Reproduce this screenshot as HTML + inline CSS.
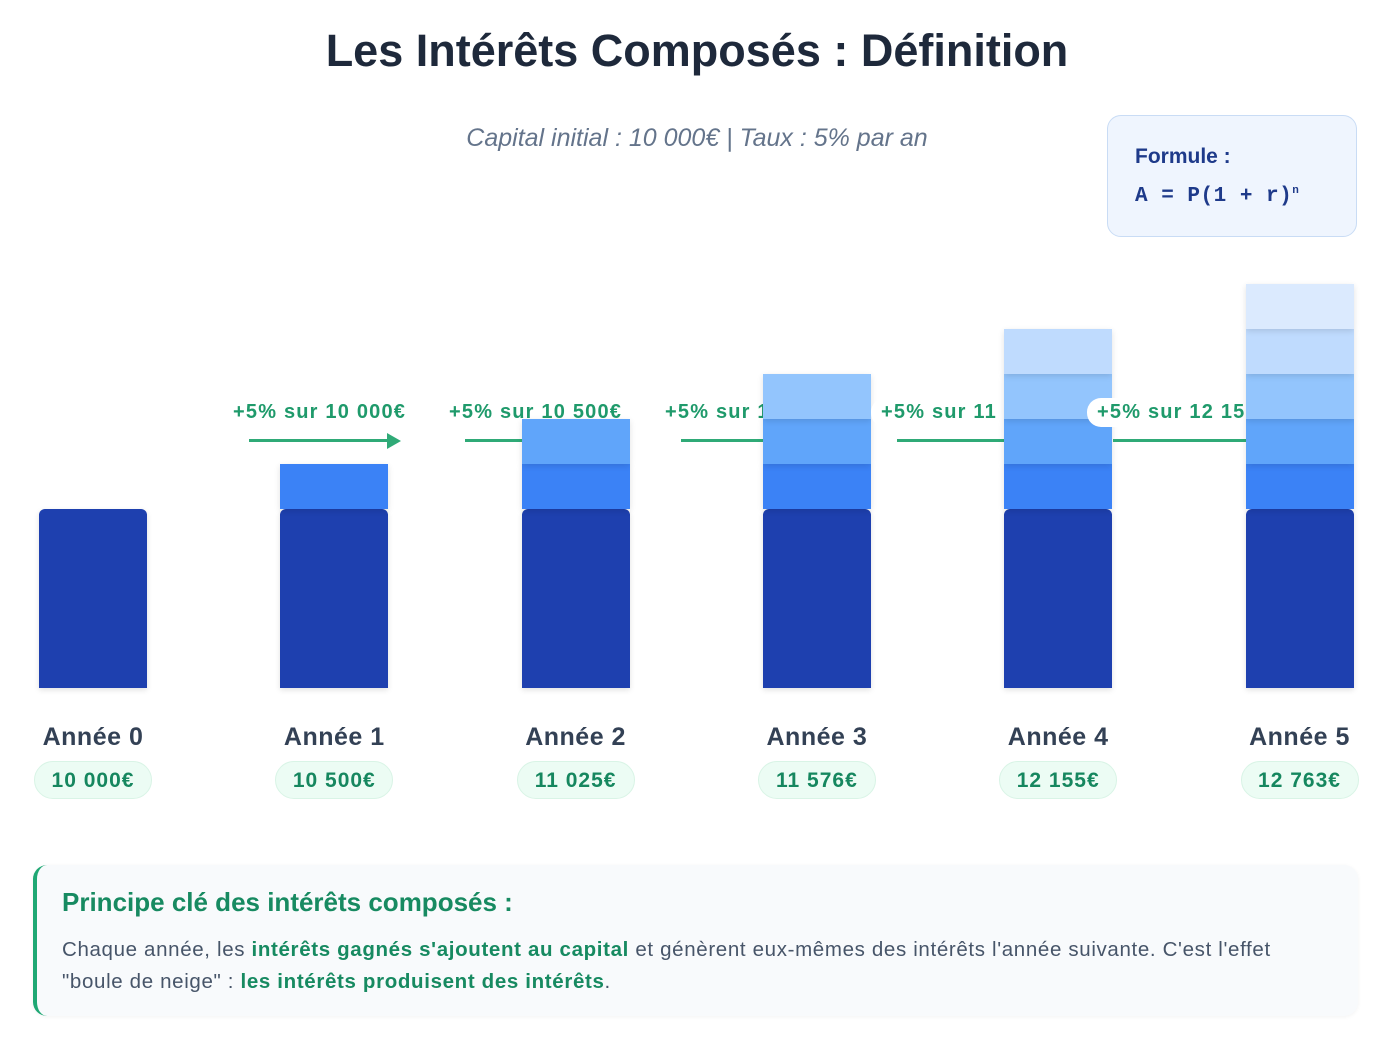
<!DOCTYPE html>
<html><head><meta charset="utf-8"><style>
body{margin:0;width:1394px;height:1038px;background:#fff;position:relative;overflow:hidden;font-family:"Liberation Sans","DejaVu Sans",sans-serif;}
.abs{position:absolute;}
#title{left:0;width:1394px;top:25px;text-align:center;font-size:45px;font-weight:bold;color:#1e293b;}
#sub{left:0;width:1394px;top:124px;text-align:center;font-size:25px;font-style:italic;color:#64748b;}
#formula{left:1107px;top:115px;width:250px;height:122px;box-sizing:border-box;background:#eff5fe;border:1.5px solid #c9dcf5;border-radius:14px;}
.lbl{font-size:20px;letter-spacing:1.2px;font-weight:bold;color:#1f9a6b;background:#fff;border-radius:14px;padding:3px 0;white-space:nowrap;}
.arrow{height:3px;background:#2faa77;}
.seg{box-shadow:0 2px 6px rgba(0,0,0,.12);}
.year{font-size:25px;letter-spacing:0.5px;font-weight:bold;color:#334155;text-align:center;width:160px;}
.pill{font-size:21px;letter-spacing:1px;font-weight:bold;color:#16875f;background:#ecfcf4;border:1px solid #d9f4e6;border-radius:19px;width:118px;height:38px;line-height:38px;text-align:center;box-sizing:border-box;}
#box{left:33px;top:865px;width:1325px;height:151px;box-sizing:border-box;background:#f8fafc;border-left:4px solid #1fa874;border-radius:14px;box-shadow:0 1px 4px rgba(0,0,0,.05);}
.g{color:#178a61;font-weight:bold;}
</style></head><body>
<div id="title" class="abs">Les Intérêts Composés : Définition</div>
<div id="sub" class="abs">Capital initial : 10 000€ | Taux : 5% par an</div>
<div id="formula" class="abs">
 <div class="abs" style="left:27px;top:29px;font-size:21px;font-weight:bold;color:#1e3a8a">Formule :</div>
 <div class="abs" style="left:27px;top:69px;font-size:21px;font-weight:bold;color:#1e3a8a;font-family:'Liberation Mono',monospace;white-space:pre;letter-spacing:0.5px">A = P(1 + r)<sup style="font-size:11px">n</sup></div>
</div>
<div id="chart" class="abs" style="left:0;top:0;width:1394px;height:850px"></div>
<div id="box" class="abs">
 <div class="abs" style="left:25px;top:22px;font-size:26px;font-weight:bold;color:#178a61">Principe clé des intérêts composés :</div>
 <div class="abs" style="left:25px;top:69px;font-size:20.5px;color:#475569;line-height:32px;white-space:nowrap;letter-spacing:0.65px">Chaque année, les <span class="g">intérêts gagnés s'ajoutent au capital</span> et génèrent eux-mêmes des intérêts l'année suivante. C'est l'effet<br>"boule de neige" : <span class="g">les intérêts produisent des intérêts</span>.</div>
</div>
<script>
const years=["Année 0","Année 1","Année 2","Année 3","Année 4","Année 5"];
const values=[10000,10500,11025,11576,12155,12763];
const segColors=["#3b82f6","#60a5fa","#93c5fd","#bfdbfe","#dbeafe"];
const chart=document.getElementById('chart');
const fmt=v=>String(Math.round(v)).replace(/\B(?=(\d{3})+(?!\d))/g,' ')+'€';
const baseY=688, barW=108, x0=39, pitch=241.3, baseH=179;
const segH=45;
function xBar(i){return x0+i*pitch;}
function addLabel(k){
  const lx=233+216*(k-1);
  const l=document.createElement('div');
  
  
  l.className='abs lbl';l.style.left=(lx-10)+'px';l.style.top='398px';l.style.paddingLeft='10px';l.style.paddingRight='10px';
  l.textContent='+5% sur '+fmt(values[k-1]);
  chart.appendChild(l);
  const a=document.createElement('div');
  
  
  a.className='abs arrow';a.style.left=(lx+16)+'px';a.style.top='439px';a.style.width='140px';
  chart.appendChild(a);
  const h=document.createElement('div');
  
  
  h.className='abs';h.style.left=(lx+154)+'px';h.style.top='433px';
  h.style.borderLeft='14px solid #2faa77';h.style.borderTop='8px solid transparent';h.style.borderBottom='8px solid transparent';
  chart.appendChild(h);
}
values.forEach((v,i)=>{
  const x=xBar(i);
  const b=document.createElement('div');
  
  
  b.className='abs seg';b.style.cssText+=`left:${x}px;top:${baseY-baseH}px;width:${barW}px;height:${baseH}px;background:#1e40af;border-radius:6px 6px 0 0;`;
  chart.appendChild(b);
  for(let s=0;s<i;s++){
    const sg=document.createElement('div');
    
    
    sg.className='abs seg';sg.style.cssText+=`left:${x}px;top:${baseY-baseH-(s+1)*segH}px;width:${barW}px;height:${segH}px;background:${segColors[s%segColors.length]};`;
    chart.appendChild(sg);
  }
  const y=document.createElement('div');
  
  
  y.className='abs year';y.style.left=(x+barW/2-80)+'px';y.style.top='723px';y.textContent=years[i];
  chart.appendChild(y);
  const p=document.createElement('div');
  
  
  p.className='abs pill';p.style.left=(x+barW/2-59)+'px';p.style.top='761px';p.textContent=fmt(v);
  chart.appendChild(p);
  if(i+1<values.length) addLabel(i+1);
});
</script>
</body></html>
